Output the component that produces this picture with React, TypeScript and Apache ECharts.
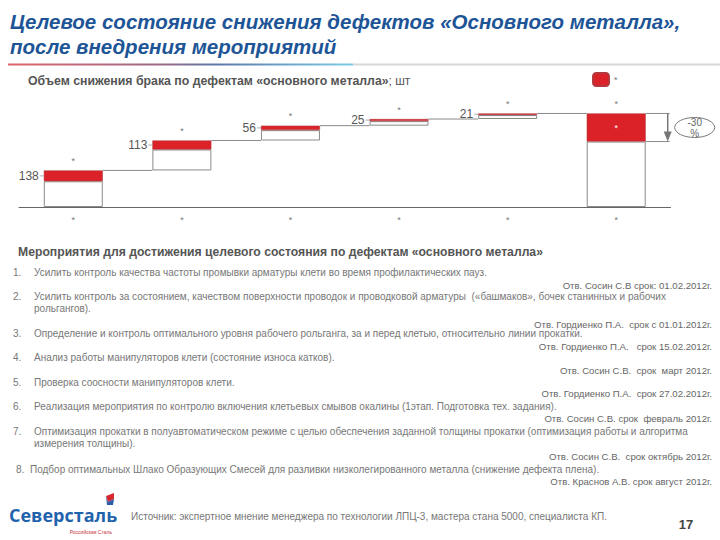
import React, { useEffect, useRef } from "react";
import * as echarts from "echarts";

// ---------- data ----------
const categories = ["*", "*", "*", "*", "*", "*"];
const stepLabels = ["138", "113", "56", "25", "21"];
const stepValues = [138, 113, 56, 25, 21];
const redValues = [41, 34, 17, 8, 6];
const totalRed = 106;
const reductionTop = "-30";
const reductionBottom = "%";
const legendName = "*";

const titleLines = [
  "Целевое состояние снижения дефектов «Основного металла»,",
  "после внедрения мероприятий",
];
const chartSubtitle = "Объем снижения брака по дефектам «основного металла»";
const chartUnit = "; шт";
const measuresHeading =
  "Мероприятия для достижения целевого состояния по дефектам «основного металла»";

const measureNumbers = ["1.", "2.", "3.", "4.", "5.", "6.", "7.", "8."];
const measureLines = [
  ["Усилить контроль качества частоты промывки арматуры клети во время профилактических пауз."],
  [
    "Усилить контроль за состоянием, качеством поверхности проводок и проводковой арматуры  («башмаков», бочек станинных и рабочих",
    "рольгангов).",
  ],
  ["Определение и контроль оптимального уровня рабочего рольганга, за и перед клетью, относительно линии прокатки."],
  ["Анализ работы манипуляторов клети (состояние износа катков)."],
  ["Проверка соосности манипуляторов клети."],
  ["Реализация мероприятия по контролю включения клетьевых смывов окалины (1этап. Подготовка тех. задания)."],
  [
    "Оптимизация прокатки в полуавтоматическом режиме с целью обеспечения заданной толщины прокатки (оптимизация работы и алгоритма",
    "измерения толщины).",
  ],
  ["Подбор оптимальных Шлако Образующих Смесей для разливки низколегированного металла (снижение дефекта плена)."],
];
const measureResp = [
  "Отв. Сосин С.В срок: 01.02.2012г.",
  "Отв. Гордиенко П.А.  срок с 01.01.2012г.",
  "Отв. Гордиенко П.А.   срок 15.02.2012г.",
  "Отв. Сосин С.В.  срок  март 2012г.",
  "Отв. Гордиенко П.А.  срок 27.02.2012г.",
  "Отв. Сосин С.В. срок  февраль 2012г.",
  "Отв. Сосин С.В.  срок октябрь 2012г.",
  "Отв. Краснов А.В. срок август 2012г.",
];
const sourceText =
  "Источник: экспертное мнение менеджера по технологии ЛПЦ-3, мастера стана 5000, специалиста КП.";
const pageNumber = "17";
const logoText = "Северсталь";
const logoSub = "Российская Сталь";

// layout (positions only)
const itemY = [272, 296, 333, 357, 382, 406, 431, 469];
const respY = [285, 324, 346, 370, 393, 418, 456, 481];

const RED = "#dc2229";
const BORDER = "#8a8a8a";
const BAR_W = 59;

export default function App() {
  const ref = useRef<HTMLDivElement>(null);

  useEffect(() => {
    if (!ref.current) return;
    const chart = echarts.init(ref.current, undefined, { renderer: "svg" });

    const total = stepValues.reduce((a, b) => a + b, 0);
    const base: number[] = [];
    let acc = 0;
    stepValues.forEach((v) => {
      base.push(acc);
      acc += v;
    });
    base.push(0);
    const white = stepValues.map((v, i) => v - redValues[i]);
    white.push(total - totalRed);
    const reds = [...redValues, totalRed];
    const tops = [...base.slice(0, 5).map((b, i) => b + stepValues[i]), total];

    const font = "Liberation Sans";

    const graphic: any[] = [];
    titleLines.forEach((t, i) => {
      graphic.push({
        type: "text",
        x: 10,
        y: 21 + i * 25,
        style: {
          text: t,
          font: `italic bold 20.5px "${font}"`,
          fill: "#1d5597",
          align: "left",
          verticalAlign: "middle",
        },
      });
    });
    graphic.push({
      type: "rect",
      shape: { x: 8, y: 63.5, width: 345, height: 2 },
      style: {
        fill: new echarts.graphic.LinearGradient(0, 0, 1, 0, [
          { offset: 0, color: "#e0646c" },
          { offset: 0.45, color: "#9a6a86" },
          { offset: 0.6, color: "#5b78a8" },
          { offset: 1, color: "#7dcbe6" },
        ]),
      },
    });
    graphic.push({
      type: "rect",
      shape: { x: 353, y: 63.5, width: 367, height: 2 },
      style: { fill: "#d8d8d8" },
    });
    graphic.push({
      type: "text",
      x: 28,
      y: 81,
      style: {
        text: `{b|${chartSubtitle}}{n|${chartUnit}}`,
        rich: {
          b: { font: `bold 12.3px "${font}"`, fill: "#555", color: "#555" },
          n: { font: `12px "${font}"`, fill: "#555", color: "#555" },
        },
        align: "left",
        verticalAlign: "middle",
      },
    });
    graphic.push({
      type: "text",
      x: 18,
      y: 252,
      style: {
        text: measuresHeading,
        font: `bold 12.2px "${font}"`,
        fill: "#555",
        align: "left",
        verticalAlign: "middle",
      },
    });
    measureLines.forEach((lines, i) => {
      const last = i === 7;
      graphic.push({
        type: "text",
        x: last ? 16 : 13,
        y: itemY[i],
        style: {
          text: measureNumbers[i],
          font: `10px "${font}"`,
          fill: "#777",
          align: "left",
          verticalAlign: "middle",
        },
      });
      lines.forEach((ln, j) => {
        graphic.push({
          type: "text",
          x: last ? 30 : 34,
          y: itemY[i] + j * 12,
          style: {
            text: ln,
            font: `10px "${font}"`,
            fill: "#777",
            align: "left",
            verticalAlign: "middle",
          },
        });
      });
      graphic.push({
        type: "text",
        x: 712,
        y: respY[i],
        style: {
          text: measureResp[i],
          font: `9.6px "${font}"`,
          fill: "#666",
          align: "right",
          verticalAlign: "middle",
        },
      });
    });
    // logo
    graphic.push({
      type: "text",
      x: 9,
      y: 515,
      style: {
        text: logoText,
        font: `bold 18px "Open Sans"`,
        fill: "#1f63ad",
        align: "left",
        verticalAlign: "middle",
      },
    });
    graphic.push({
      type: "text",
      x: 112,
      y: 532,
      style: {
        text: logoSub,
        font: `5px "${font}"`,
        fill: "#c4343c",
        align: "right",
        verticalAlign: "middle",
      },
    });
    graphic.push({
      type: "polygon",
      shape: { points: [[106, 496], [114, 493], [114, 499], [108, 502]] },
      style: { fill: "#d8262e" },
    });
    graphic.push({
      type: "polygon",
      shape: { points: [[106, 496], [108, 502], [114, 499], [113, 505], [107, 505]] },
      style: { fill: "#2c5ea8" },
    });
    graphic.push({
      type: "text",
      x: 131,
      y: 516,
      style: {
        text: sourceText,
        font: `10px "${font}"`,
        fill: "#777",
        align: "left",
        verticalAlign: "middle",
      },
    });
    graphic.push({
      type: "text",
      x: 686,
      y: 524,
      style: {
        text: pageNumber,
        font: `bold 13px "${font}"`,
        fill: "#444",
        align: "center",
        verticalAlign: "middle",
      },
    });

    const customData = tops.map((t, i) => [i, t, reds[i]]);

    const option: any = {
      animation: false,
      backgroundColor: "#fff",
      textStyle: { fontFamily: font },
      grid: { left: 19, right: 49.5, top: 101, bottom: 333, containLabel: false },
      legend: {
        data: [legendName],
        left: 592,
        top: 72,
        itemWidth: 16,
        itemHeight: 13,
        itemGap: 4,
        textStyle: { color: "#777", fontSize: 9, padding: [-8, 0, 0, 0] },
        padding: 0,
        selectedMode: false,
      },
      xAxis: {
        type: "category",
        data: categories,
        axisLine: { show: true, lineStyle: { color: "#666", width: 1 } },
        axisTick: { show: false },
        axisLabel: { color: "#777", fontSize: 9, margin: 8 },
      },
      yAxis: {
        type: "value",
        min: 0,
        max: 400,
        show: false,
        splitLine: { show: false },
      },
      graphic,
      series: [
        {
          name: "base",
          type: "bar",
          stack: "w",
          barWidth: BAR_W,
          silent: true,
          itemStyle: { color: "transparent" },
          data: base,
        },
        {
          name: "rest",
          type: "bar",
          stack: "w",
          barWidth: BAR_W,
          silent: true,
          itemStyle: { color: "#fff", borderColor: BORDER, borderWidth: 1 },
          data: white,
        },
        {
          name: legendName,
          type: "bar",
          stack: "w",
          barWidth: BAR_W,
          silent: true,
          itemStyle: { color: RED, borderColor: "#b23a3f", borderWidth: 0.6 },
          data: reds.map((v, i) =>
            i < 5
              ? {
                  value: v,
                  label: {
                    show: true,
                    position: "left",
                    distance: 5,
                    formatter: stepLabels[i],
                    color: "#555",
                    fontSize: 12,
                  },
                }
              : {
                  value: v,
                  label: {
                    show: true,
                    position: "inside",
                    formatter: "*",
                    color: "#fff",
                    fontSize: 9,
                  },
                }
          ),
        },
        {
          name: "cap",
          type: "bar",
          stack: "w",
          barWidth: BAR_W,
          silent: true,
          itemStyle: { color: "transparent" },
          label: {
            show: true,
            position: "top",
            distance: 5,
            formatter: "*",
            color: "#777",
            fontSize: 9,
          },
          data: categories.map(() => 0),
        },
        {
          name: "connectors",
          type: "custom",
          silent: true,
          z: 5,
          data: customData,
          renderItem: (params: any, api: any) => {
            const i = api.value(0);
            const top = api.value(1);
            const red = api.value(2);
            const half = BAR_W / 2;
            const p = api.coord([i, top]);
            const children: any[] = [];
            const ls = { stroke: "#8a8a8a", lineWidth: 1 };
            const mid = api.coord([i, top - red / 2]);
            if (i < 5) {
              const n = api.coord([i + 1, top]);
              children.push({
                type: "line",
                shape: { x1: p[0] + half, y1: p[1], x2: n[0] - half, y2: p[1] },
                style: ls,
              });
              children.push({
                type: "line",
                shape: { x1: mid[0] - half - 4, y1: mid[1], x2: mid[0] - half, y2: mid[1] },
                style: { stroke: "#999", lineWidth: 0.8 },
              });
            } else {
              const b = api.coord([i, top - red]);
              const xr = p[0] + half;
              children.push({
                type: "line",
                shape: { x1: xr, y1: p[1], x2: xr + 24, y2: p[1] },
                style: ls,
              });
              children.push({
                type: "line",
                shape: { x1: xr, y1: b[1], x2: xr + 24, y2: b[1] },
                style: ls,
              });
              const ax = xr + 22;
              children.push({
                type: "line",
                shape: { x1: ax, y1: p[1], x2: ax, y2: b[1] - 8 },
                style: { stroke: "#777", lineWidth: 1.5 },
              });
              children.push({
                type: "polygon",
                shape: { points: [[ax - 4, b[1] - 10], [ax + 4, b[1] - 10], [ax, b[1]]] },
                style: { fill: "#777" },
              });
              const cy = (p[1] + b[1]) / 2;
              children.push({
                type: "ellipse",
                shape: { cx: xr + 49, cy, rx: 20, ry: 10 },
                style: { fill: "#fff", stroke: "#777", lineWidth: 1 },
              });
              children.push({
                type: "text",
                x: xr + 49,
                y: cy - 5.5,
                style: {
                  text: reductionTop,
                  font: `10px "${font}"`,
                  fill: "#666",
                  align: "center",
                  verticalAlign: "middle",
                },
              });
              children.push({
                type: "text",
                x: xr + 49,
                y: cy + 6,
                style: {
                  text: reductionBottom,
                  font: `10px "${font}"`,
                  fill: "#666",
                  align: "center",
                  verticalAlign: "middle",
                },
              });
            }
            return { type: "group", children };
          },
        },
      ],
    };
    chart.setOption(option);
    return () => chart.dispose();
  }, []);

  return (
    <div
      ref={ref}
      style={{ position: "fixed", left: 0, top: 0, width: 720, height: 540 }}
    />
  );
}
